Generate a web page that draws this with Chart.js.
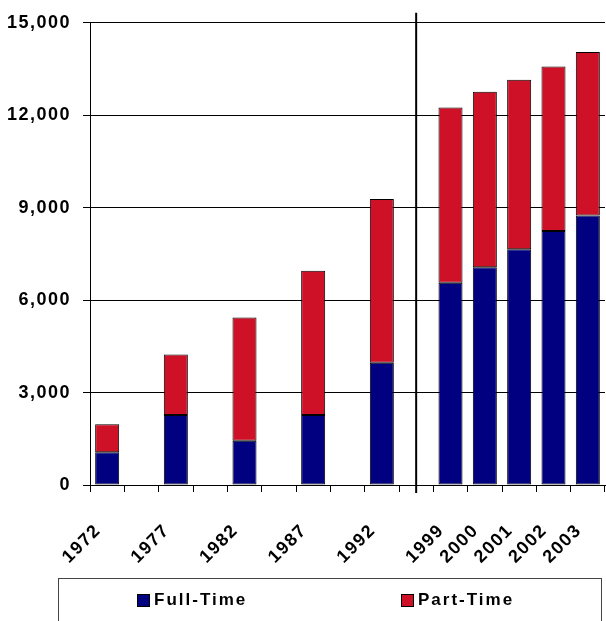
<!DOCTYPE html>
<html>
<head>
<meta charset="utf-8">
<script src="https://cdn.jsdelivr.net/npm/chart.js@4/dist/chart.umd.min.js"></script>
<style>
  html, body { margin: 0; padding: 0; background: #fff; }
  #wrap { position: relative; width: 606px; height: 621px; overflow: hidden; }
  #wrap canvas { position: absolute; left: 0; top: 0; }
  #legend {
    position: absolute; left: 58px; top: 578px; width: 544px; height: 60px;
    border: 1px solid #444; box-sizing: border-box;
    font-family: 'Liberation Sans', Arial, sans-serif; font-weight: bold;
    font-size: 17px; letter-spacing: 2px; color: #000;
  }
  .item { position: absolute; top: 11px; display: flex; align-items: center; }
  .sw { width: 11px; height: 11px; border: 1px solid #000; margin-right: 4px; }
</style>
</head>
<body>
<div id="wrap">
  <canvas id="c" width="606" height="621"></canvas>
  <div id="legend">
    <div class="item" style="left:78px"><span class="sw" style="background:#000080"></span><span>Full-Time</span></div>
    <div class="item" style="left:342px"><span class="sw" style="background:#CE1126"></span><span>Part-Time</span></div>
  </div>
</div>
<script>
// Categories (empty strings are spacer slots on the category axis)
const categories = ['1972', '', '1977', '', '1982', '', '1987', '', '1992', '', '1999', '2000', '2001', '2002', '2003'];
const fullTime = [1060, null, 2270, null, 1440, null, 2270, null, 3970, null, 6560, 7070, 7650, 8240, 8750];
const partTime = [910, null, 1965, null, 4000, null, 4680, null, 5310, null, 5690, 5690, 5500, 5340, 5300];
const seriesNames = ['Full-Time', 'Part-Time'];
const yTicks = [0, 3000, 6000, 9000, 12000, 15000];
const breakAfter = '1992';

const FONT = "'Liberation Sans', Arial, sans-serif";

const spacingPlugin = {
  id: 'spacing',
  beforeUpdate(chart) { chart.ctx.letterSpacing = '1.5px'; },
  beforeDraw(chart) { chart.ctx.letterSpacing = '1.5px'; }
};

const breakLinePlugin = {
  id: 'breakLine',
  afterDatasetsDraw(chart) {
    const xs = chart.scales.x;
    const area = chart.chartArea;
    const idx = categories.indexOf(breakAfter) + 1;
    const x = xs.getPixelForValue(idx);
    const ctx = chart.ctx;
    ctx.save();
    ctx.strokeStyle = '#000';
    ctx.lineWidth = 2;
    ctx.beginPath();
    ctx.moveTo(x, area.top - 10);
    ctx.lineTo(x, area.bottom + 8);
    ctx.stroke();
    ctx.restore();
  }
};

new Chart(document.getElementById('c'), {
  type: 'bar',
  data: {
    labels: categories,
    datasets: [
      { label: seriesNames[0], data: fullTime, backgroundColor: '#000080', borderColor: '#000', borderWidth: 1, borderSkipped: false, barPercentage: 0.7, categoryPercentage: 1.0 },
      { label: seriesNames[1], data: partTime, backgroundColor: '#CE1126', borderColor: '#000', borderWidth: 1, borderSkipped: false, barPercentage: 0.7, categoryPercentage: 1.0 }
    ]
  },
  options: {
    responsive: false,
    animation: false,
    devicePixelRatio: 1,
    layout: { padding: { left: 0, top: 18, right: 1, bottom: 36 } },
    plugins: { legend: { display: false }, tooltip: { enabled: false } },
    scales: {
      x: {
        stacked: true,
        offset: true,
        afterFit(s) { s.height = 100; s.paddingLeft = 0; s.paddingRight = 0; },
        grid: { offset: true, drawOnChartArea: false, color: '#000', tickLength: 7, tickColor: '#000' },
        border: { color: '#000', width: 1 },
        ticks: { autoSkip: false, minRotation: 45, maxRotation: 45, color: '#000', padding: 28, labelOffset: -9,
                 font: { family: FONT, size: 18, weight: 'bold' } }
      },
      y: {
        stacked: true,
        min: 0, max: 15000,
        afterFit(s) { s.width = 90; },
        afterBuildTicks(s) { s.ticks = yTicks.map(v => ({ value: v })); },
        grid: { color: '#000', tickLength: 7, tickColor: '#000' },
        border: { color: '#000', width: 1 },
        ticks: { color: '#000', padding: 12, font: { family: FONT, size: 18, weight: 'bold' },
                 callback: v => v.toLocaleString('en-US') }
      }
    }
  },
  plugins: [spacingPlugin, breakLinePlugin]
});
</script>
</body>
</html>
